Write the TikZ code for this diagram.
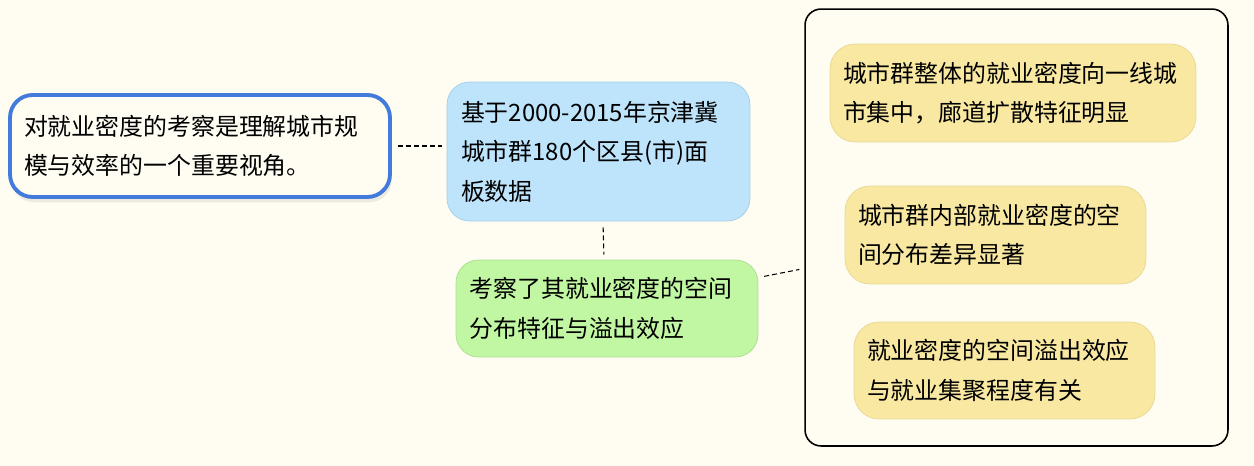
\documentclass[tikz,border=0pt]{standalone}
\usepackage{fontspec}
\newfontfamily\cjk{Noto Sans CJK SC}
\usetikzlibrary{shadows}
\definecolor{fond}{RGB}{255,253,242}
\definecolor{bleuvif}{RGB}{66,123,220}
\definecolor{bleuclair}{RGB}{190,228,252}
\definecolor{bleubord}{RGB}{165,205,232}
\definecolor{vertclair}{RGB}{193,246,162}
\definecolor{vertbord}{RGB}{172,222,145}
\definecolor{jaune}{RGB}{248,232,162}
\definecolor{jaunebord}{RGB}{232,216,150}
\exhyphenpenalty=10000

\begin{document}
\begin{tikzpicture}[x=0.02cm, y=-0.02cm]
\tikzset{boite/.style={rounded corners=0.45cm, align=left, inner ysep=0pt, font=\cjk\fontsize{13.6}{22.5}\selectfont}}
\tikzset{idee/.style={boite, draw=jaunebord, fill=jaune, rounded corners=0.5cm}}
\tikzset{lien/.style={line width=0.6pt, dash pattern=on 2.8pt off 1.8pt, shorten <=0.12cm, shorten >=0.1cm}}
\fill[fond] (0,0) rectangle (1254,466);
\useasboundingbox (0,0) rectangle (1254,466);
\node[boite, draw=bleuvif, line width=2.2pt, fill=fond, drop shadow={shadow xshift=1pt, shadow yshift=-3pt, opacity=0.15}, minimum width=7.6cm, minimum height=2.04cm, text width=7.04cm, inner xsep=0.28cm] (racine) at (200,146) {对就业密度的考察是理解城市规\\模与效率的一个重要视角。};
\node[boite, draw=bleubord, fill=bleuclair, minimum width=6.06cm, minimum height=2.78cm, text width=5.5cm, inner xsep=0.28cm] (source) at (598.5,151.5) {基于2000-2015年京津冀\\城市群180个区县(市)面\\板数据};
\node[boite, draw=vertbord, fill=vertclair, minimum width=6.04cm, minimum height=1.94cm, text width=5.5cm, inner xsep=0.27cm] (methode) at (607,308.5) {考察了其就业密度的空间\\分布特征与溢出效应};
\node[draw=black, line width=0.9pt, rounded corners=0.32cm, minimum width=8.46cm, minimum height=8.74cm] (cadre) at (1016.5,227.5) {};
\node[idee, minimum width=7.32cm, minimum height=1.96cm, text width=6.8cm, inner xsep=0.26cm] (R1) at (1013,93) {城市群整体的就业密度向一线城\\市集中，廊道扩散特征明显};
\node[idee, minimum width=6.02cm, minimum height=1.96cm, text width=5.5cm, inner xsep=0.26cm] (R2) at (995.5,235) {城市群内部就业密度的空\\间分布差异显著};
\node[idee, minimum width=6.02cm, minimum height=1.94cm, text width=5.5cm, inner xsep=0.26cm] (R3) at (1004.5,370.5) {就业密度的空间溢出效应\\与就业集聚程度有关};
\draw[lien] (racine.east) -- (racine.east -| source.west);
\draw[lien] ([xshift=0.09cm]source.south) -- ([xshift=-0.06cm]methode.north);
\draw[lien] ([shift={(0,-31)}]methode.east) -- ([shift={(0,41)}]cadre.west);
\end{tikzpicture}
\end{document}
